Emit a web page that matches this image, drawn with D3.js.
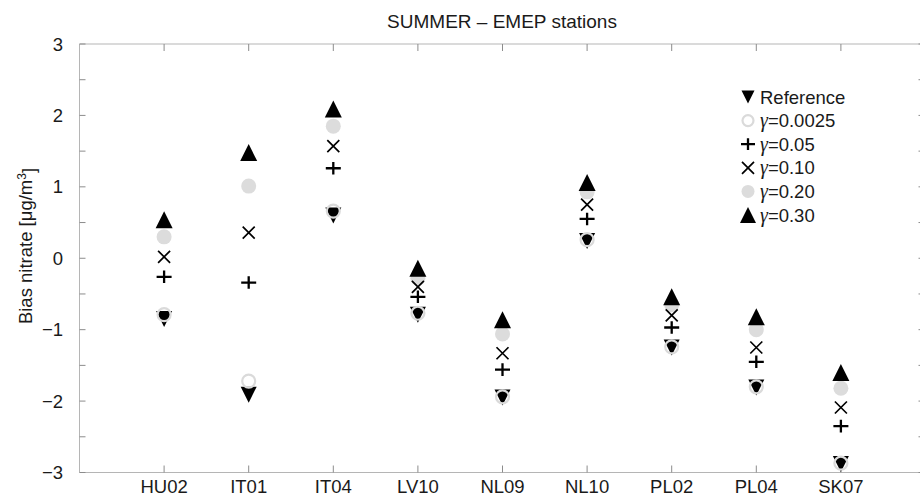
<!DOCTYPE html>
<meta charset="utf-8">
<style>
  body {
    margin: 0;
    background: #fff;
  }

  #chart text {
    font-family: "Liberation Sans", Arial, Helvetica, sans-serif;
    fill: #1a1a1a;
  }

  .gam {
    font-family: "Liberation Serif", "DejaVu Serif", serif;
    font-style: italic;
  }
</style>

<body>
  <div id="chart"></div>

  <script src="https://d3js.org/d3.v7.js"></script>

  <script>
    const width = 920;
    const height = 497;

    // stations on the x axis
    const stations = ["HU02", "IT01", "IT04", "LV10", "NL09", "NL10", "PL02", "PL04", "SK07"];

    // bias values per run
    const reference = [-0.85, -1.91, 0.60, -0.79, -1.95, 0.24, -1.25, -1.81, -2.88];
    const gamma0025 = [-0.79, -1.72, 0.66, -0.77, -1.94, 0.26, -1.24, -1.80, -2.87];
    const gamma005 = [-0.26, -0.34, 1.26, -0.54, -1.56, 0.55, -0.97, -1.45, -2.35];
    const gamma010 = [0.02, 0.36, 1.57, -0.40, -1.33, 0.75, -0.80, -1.25, -2.09];
    const gamma020 = [0.30, 1.01, 1.85, -0.28, -1.06, 0.93, -0.65, -1.00, -1.82];
    const gamma030 = [0.54, 1.48, 2.09, -0.14, -0.86, 1.06, -0.54, -0.82, -1.60];

    const yTicks = [-3, -2, -1, 0, 1, 2, 3];

    const x = d3.scaleLinear().domain([0, stations.length + 1]).range([79.5, 925.5]);
    const y = d3.scaleLinear().domain([-3, 3]).range([472.5, 44]);

    const fontSize = "18.5px";

    const svg = d3.select("#chart").append("svg")
      .attr("width", width)
      .attr("height", height);

    // marker drawing functions, each draws at (0,0) into g
    function triDown(g, s) {
      g.append("path").attr("d", `M${-s/2},${-s/2}L${s/2},${-s/2}L0,${s/2}Z`).attr("fill", "#000");
    }
    function triUp(g, s) {
      g.append("path").attr("d", `M${-s/2},${s/2}L${s/2},${s/2}L0,${-s/2}Z`).attr("fill", "#000");
    }
    function openCircle(g, s) {
      g.append("circle").attr("r", s/2).attr("fill", "none").attr("stroke", "#dadada").attr("stroke-width", 2.2);
    }
    function grayCircle(g, s) {
      g.append("circle").attr("r", s/2).attr("fill", "#dcdcdc");
    }
    function plus(g, s) {
      g.append("path").attr("d", `M${-s/2},0H${s/2}M0,${-s*0.42}V${s*0.42}`)
        .attr("stroke", "#000").attr("stroke-width", 2.3).attr("fill", "none");
    }
    function cross(g, s) {
      g.append("path").attr("d", `M${-s/2},${-s/2}L${s/2},${s/2}M${-s/2},${s/2}L${s/2},${-s/2}`)
        .attr("stroke", "#000").attr("stroke-width", 1.7).attr("fill", "none");
    }

    const series = [
      {name: "Reference", values: reference, draw: triDown, size: 16, legSize: 13},
      {name: "0.0025", values: gamma0025, draw: openCircle, size: 13, legSize: 11},
      {name: "0.05", values: gamma005, draw: plus, size: 15, legSize: 14},
      {name: "0.10", values: gamma010, draw: cross, size: 12, legSize: 12},
      {name: "0.20", values: gamma020, draw: grayCircle, size: 15, legSize: 13},
      {name: "0.30", values: gamma030, draw: triUp, size: 17, legSize: 16}
    ];

    // drawing order: reference, open circle, gray circle, up triangle, plus, cross
    const drawOrder = [0, 1, 4, 5, 2, 3];

    // axes box
    const axisColor = "#b5b5b5";
    const tickColor = "#8c8c8c";
    svg.append("line").attr("x1", x(0)).attr("x2", x(10)).attr("y1", y(3)).attr("y2", y(3)).attr("stroke", axisColor);
    svg.append("line").attr("x1", x(0)).attr("x2", x(10)).attr("y1", y(-3)).attr("y2", y(-3)).attr("stroke", axisColor);
    svg.append("line").attr("x1", x(0)).attr("x2", x(0)).attr("y1", y(3)).attr("y2", y(-3)).attr("stroke", axisColor);
    svg.append("line").attr("x1", x(10)).attr("x2", x(10)).attr("y1", y(3)).attr("y2", y(-3)).attr("stroke", axisColor);

    // y ticks every 0.5 on both sides
    const yMinor = d3.range(-3, 3.01, 0.5);
    svg.selectAll("line.ytl").data(yMinor).join("line")
      .attr("x1", x(0)).attr("x2", x(0) + 6)
      .attr("y1", d => y(d)).attr("y2", d => y(d))
      .attr("stroke", tickColor);
    svg.selectAll("line.ytr").data(yMinor).join("line")
      .attr("x1", x(10)).attr("x2", x(10) - 7)
      .attr("y1", d => y(d)).attr("y2", d => y(d))
      .attr("stroke", tickColor);

    svg.selectAll("text.ylab").data(yTicks).join("text")
      .attr("x", 63)
      .attr("y", d => y(d))
      .attr("dy", "0.36em")
      .attr("text-anchor", "end")
      .style("font-size", fontSize)
      .text(d => d3.format("d")(d));

    // x ticks at stations, top and bottom
    svg.selectAll("line.xtb").data(stations).join("line")
      .attr("x1", (d, i) => x(i + 1)).attr("x2", (d, i) => x(i + 1))
      .attr("y1", y(-3)).attr("y2", y(-3) - 7)
      .attr("stroke", tickColor);
    svg.selectAll("line.xtt").data(stations).join("line")
      .attr("x1", (d, i) => x(i + 1)).attr("x2", (d, i) => x(i + 1))
      .attr("y1", y(3)).attr("y2", y(3) + 7)
      .attr("stroke", tickColor);

    svg.selectAll("text.xlab").data(stations).join("text")
      .attr("x", (d, i) => x(i + 1))
      .attr("y", 492.5)
      .attr("text-anchor", "middle")
      .style("font-size", fontSize)
      .text(d => d);

    // title and y label
    svg.append("text")
      .attr("x", 502).attr("y", 28)
      .attr("text-anchor", "middle")
      .style("font-size", "19px")
      .text("SUMMER \u2013 EMEP stations");

    const ylab = svg.append("text")
      .attr("transform", "translate(32,246) rotate(-90)")
      .attr("text-anchor", "middle")
      .style("font-size", fontSize);
    ylab.append("tspan").text("Bias nitrate [\u03bcg/m");
    ylab.append("tspan").attr("dy", "-0.5em").style("font-size", "12px").text("3");
    ylab.append("tspan").attr("dy", "0.5em").text("]");

    // points
    drawOrder.forEach(k => {
      const s = series[k];
      s.values.forEach((v, i) => {
        const g = svg.append("g").attr("transform", `translate(${x(i + 1)},${y(v)})`);
        s.draw(g, s.size);
      });
    });

    // legend
    const legend = svg.append("g").attr("transform", "translate(748,97)");
    series.forEach((s, i) => {
      const row = legend.append("g").attr("transform", `translate(0,${i * 23.6})`);
      s.draw(row, s.legSize);
      const t = row.append("text")
        .attr("x", 12)
        .attr("dy", "0.36em")
        .style("font-size", fontSize);
      if (i === 0) {
        t.text(s.name);
      } else {
        t.append("tspan").attr("class", "gam").style("font-size", "20px").text("\u03b3");
        t.append("tspan").text("=" + s.name);
      }
    });
  </script>

</body>
</html>
